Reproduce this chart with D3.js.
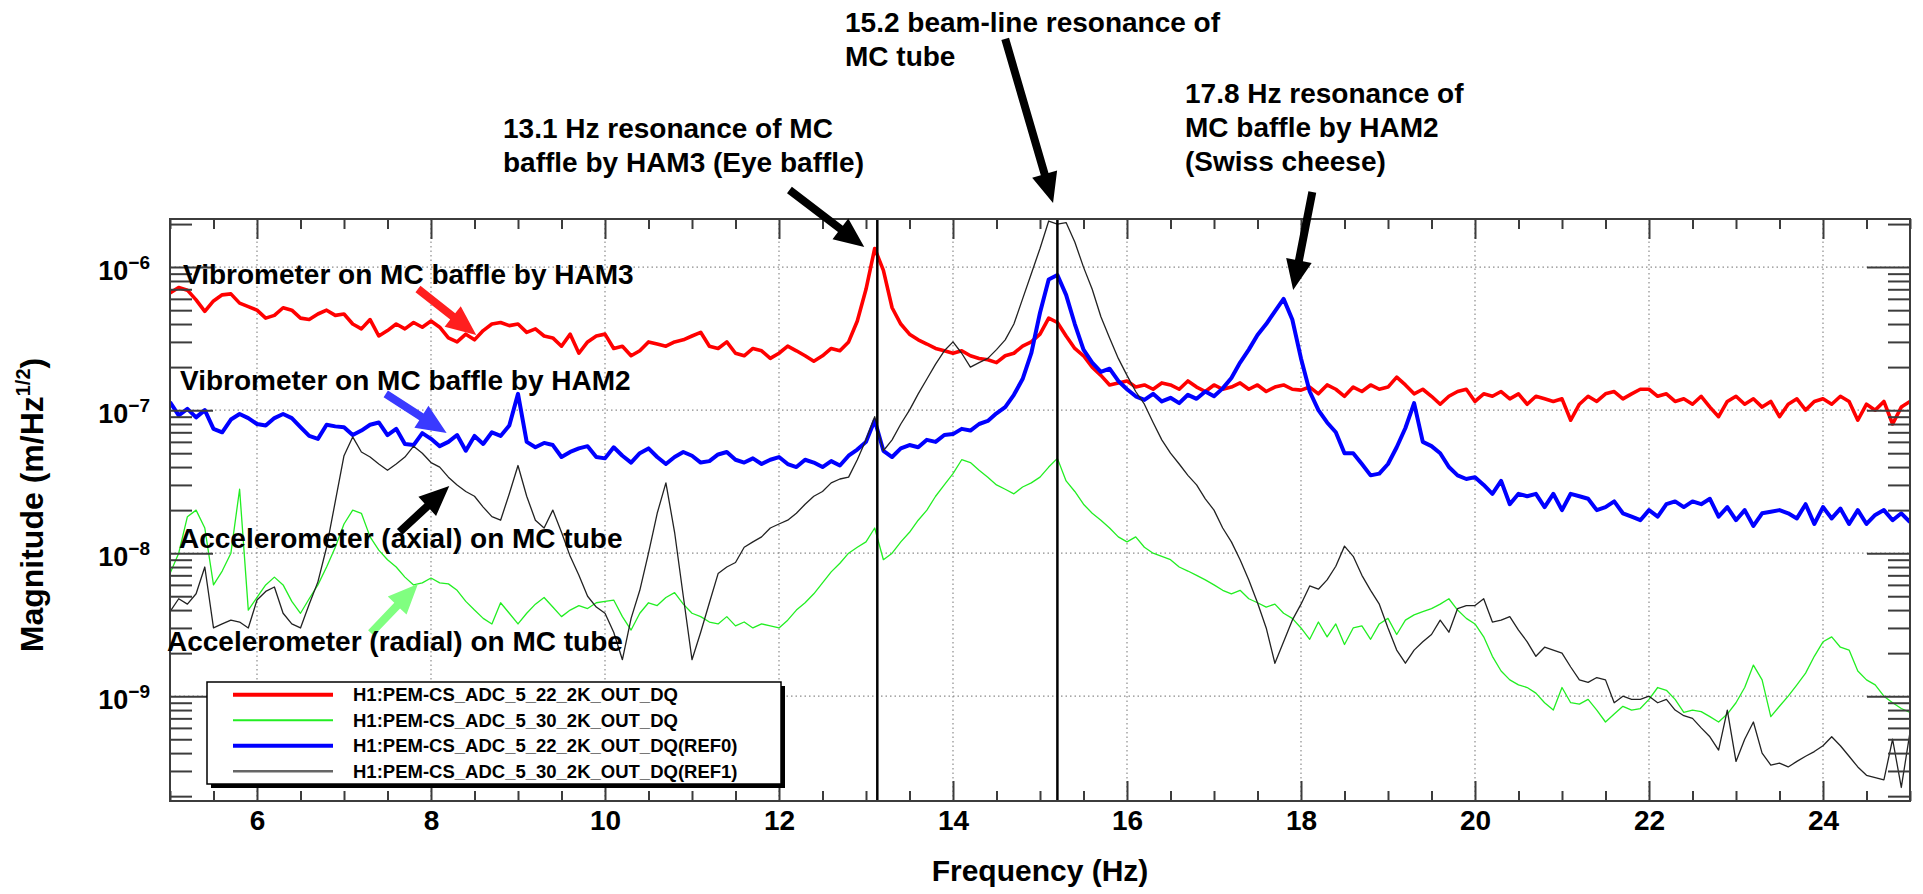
<!DOCTYPE html>
<html>
<head>
<meta charset="utf-8">
<script src="https://cdn.jsdelivr.net/npm/d3@7"></script>
<style>
  html, body { margin: 0; padding: 0; background: #fff; }
  svg { display: block; font-family: "Liberation Sans", Arial, Helvetica, sans-serif; font-weight: bold; }
</style>
</head>
<body>
<svg id="chart" width="1923" height="894"></svg>
<script>
// spectra in units of 1e-9 m/Hz^1/2, one value every 0.1 Hz from 5.0 to 25.0 Hz
const unit = 1e-9;
const freqStart = 5, freqStep = 0.1;

// red: vibrometer by HAM3 (5_22)
const redVib = [
  660, 720, 690, 590, 490, 580, 640, 650, 560, 530,
  500, 440, 460, 520, 500, 440, 430, 470, 500, 460,
  470, 400, 370, 430, 330, 360, 400, 370, 410, 380,
  420, 380, 320, 300, 340, 310, 360, 400, 410, 390,
  400, 350, 370, 330, 320, 280, 340, 250, 300, 330,
  340, 270, 280, 240, 260, 300, 290, 280, 300, 310,
  330, 350, 280, 270, 300, 250, 240, 270, 260, 230,
  250, 280, 260, 240, 220, 240, 270, 260, 300, 420,
  700, 1350, 950, 520, 400, 340, 310, 290, 270, 260,
  250, 260, 240, 230, 225, 215, 240, 250, 280, 300,
  340, 440, 410, 330, 270, 240, 200, 175, 150, 155,
  160, 145, 150, 140, 155, 150, 140, 160, 145, 135,
  150, 140, 145, 155, 140, 150, 135, 145, 150, 140,
  138, 145, 130, 150, 140, 125, 145, 135, 150, 140,
  145, 170, 150, 130, 140, 125, 110, 125, 135, 140,
  115, 130, 125, 135, 120, 130, 110, 125, 120, 115,
  120, 85, 110, 125, 115, 130, 135, 120, 130, 140,
  140, 125, 130, 115, 120, 110, 125, 105, 90, 115,
  125, 110, 120, 105, 115, 90, 110, 120, 100, 115,
  120, 110, 125, 115, 85, 110, 100, 115, 80, 105,
  115
];

// green: accelerometer radial (5_30)
const greenAcc = [
  7.2, 10, 18, 20, 15, 6, 7.5, 10, 28, 4,
  4.9, 6.0, 6.8, 6.0, 4.6, 3.8, 4.8, 6.0, 8.0, 11,
  16, 20, 19, 13, 10.5, 9.0, 8.0, 6.8, 6.0, 6.2,
  6.7, 6.2, 6.1, 5.5, 4.6, 4.0, 3.5, 3.2, 4.5, 3.8,
  3.2, 3.8, 4.4, 4.9, 4.2, 3.6, 4.0, 4.3, 4.1, 4.5,
  4.6, 4.7, 3.6, 2.9, 3.8, 4.5, 4.3, 4.9, 5.3, 4.4,
  3.8, 3.6, 3.3, 3.2, 3.6, 3.1, 3.3, 3.0, 3.2, 3.1,
  3.0, 3.4, 4.0, 4.5, 5.2, 6.2, 7.4, 8.5, 10, 11,
  12, 15, 9.0, 10, 12, 14, 17, 20, 25, 30,
  36, 45, 43, 38, 34, 30, 28, 26, 29, 31,
  34, 40, 46, 32, 27, 22, 19, 17, 15, 13,
  12, 13, 11, 10, 9.5, 9.0, 8.0, 7.5, 7.0, 6.5,
  6.0, 5.5, 5.2, 5.5, 4.8, 4.5, 4.2, 4.4, 3.8, 3.5,
  3.0, 2.5, 3.3, 2.6, 3.2, 2.3, 3.0, 3.1, 2.5, 3.2,
  3.5, 2.7, 3.4, 3.7, 3.9, 4.1, 4.4, 4.8, 4.0, 3.5,
  3.2, 2.6, 1.9, 1.5, 1.3, 1.2, 1.15, 1.05, 0.9, 0.8,
  1.15, 0.9, 0.88, 0.95, 0.8, 0.66, 0.75, 0.85, 0.8, 0.82,
  0.95, 1.15, 1.1, 0.95, 0.77, 0.8, 0.78, 0.72, 0.66, 0.75,
  0.9, 1.15, 1.65, 1.3, 0.72, 0.85, 1.0, 1.2, 1.45, 1.9,
  2.4, 2.6, 2.2, 2.1, 1.5, 1.3, 1.2, 1.0, 0.9, 0.82,
  0.77
];

// blue: vibrometer by HAM2 (5_22 REF0)
const blueVib = [
  114, 92, 102, 89, 100, 74, 70, 86, 94, 88,
  80, 78, 88, 94, 88, 76, 66, 63, 79, 77,
  76, 67, 72, 79, 82, 67, 74, 58, 57, 69,
  63, 56, 60, 67, 52, 66, 58, 70, 66, 78,
  130, 60, 55, 59, 57, 47, 51, 54, 56, 47,
  46, 55, 48, 43, 50, 54, 47, 42, 47, 51,
  48, 43, 44, 49, 51, 45, 43, 46, 42, 45,
  47, 42, 40, 45, 43, 40, 44, 41, 48, 53,
  60, 85, 52, 47, 54, 57, 55, 62, 60, 67,
  68, 74, 72, 80, 84, 95, 105, 128, 165, 250,
  480, 820, 880, 640, 400, 265, 215, 185, 195, 160,
  140, 125, 118, 130, 115, 122, 112, 128, 120, 135,
  125, 142, 168, 215, 265, 335, 400, 490, 600, 430,
  230, 135, 100, 82, 70, 50, 50, 42, 35, 36,
  42, 55, 75, 112, 60, 56, 50, 40, 35, 33,
  34, 30, 26, 32, 22, 26, 25, 26, 21, 26,
  20, 26, 25, 24, 20, 21, 23, 19, 18, 17,
  20, 18, 22, 23, 21, 23, 22, 24, 18, 21,
  17, 20, 15.5, 19, 19.5, 20, 19, 17.5, 22, 16,
  21, 17.5, 20.5, 16, 20, 16, 18.5, 20, 17, 19,
  16.5
];

// black: accelerometer axial (5_30 REF1)
const blackAcc = [
  3.9, 4.8, 4.4, 5.2, 8.0, 3.0, 3.2, 3.4, 3.3, 3.0,
  4.7, 5.4, 5.8, 3.8, 3.2, 3.0, 4.4, 6.3, 11, 23,
  48, 65, 51, 47, 42, 38, 42, 47, 56, 50,
  43, 40, 34, 30, 27, 25, 21, 18, 17, 26,
  41, 25, 17, 15, 20, 14, 9.5, 7, 5, 4.2,
  3.8, 2.8, 1.8, 3.5, 5.5, 10, 19, 31, 14, 5,
  1.8, 2.8, 4.5, 7.2, 8.0, 8.6, 11, 12, 13, 15,
  16, 17, 19, 22, 25, 27, 31, 33, 34, 45,
  62, 90, 52, 62, 80, 100, 130, 165, 210, 260,
  300, 250, 200, 215, 230, 265, 310, 400, 600, 900,
  1350, 2100, 2000, 2050, 1500, 1000, 700, 450, 320, 230,
  175, 135, 110, 82, 62, 50, 42, 35, 30, 24,
  20, 15, 12, 9, 6.5, 4.5, 3.0, 1.7, 2.4, 3.4,
  4.4, 5.9, 5.6, 6.5, 8.1, 11.2, 9.5, 7.0, 5.5, 4.4,
  3.0, 2.1, 1.7, 2.1, 2.4, 2.7, 3.4, 2.8, 4.1, 4.3,
  4.3, 4.8, 3.3, 3.4, 3.6, 2.9, 2.4, 1.9, 2.2, 2.1,
  2.0, 1.6, 1.3, 1.25, 1.35, 1.3, 0.9, 1.0, 0.95, 0.95,
  1.0, 0.9, 0.95, 0.8, 0.73, 0.7, 0.6, 0.52, 0.42, 0.8,
  0.35, 0.5, 0.66, 0.4, 0.33, 0.34, 0.32, 0.35, 0.38, 0.41,
  0.45, 0.52, 0.45, 0.38, 0.32, 0.28, 0.27, 0.26, 0.5, 0.23,
  0.56
];

const seriesNames = [
  "H1:PEM-CS_ADC_5_22_2K_OUT_DQ",
  "H1:PEM-CS_ADC_5_30_2K_OUT_DQ",
  "H1:PEM-CS_ADC_5_22_2K_OUT_DQ(REF0)",
  "H1:PEM-CS_ADC_5_30_2K_OUT_DQ(REF1)"
];

const xMajor = [6, 8, 10, 12, 14, 16, 18, 20, 22, 24];
const xTickLabels = ["6", "8", "10", "12", "14", "16", "18", "20", "22", "24"];
const yDecades = [1e-9, 1e-8, 1e-7, 1e-6];
const yTickExponents = ["\u22129", "\u22128", "\u22127", "\u22126"];

const resonanceLines = [13.13, 15.2];

// arrows in data coordinates [Hz, m/Hz^1/2]
const arrowNotes = [
  { from: [7.85, 7.03e-7], to: [8.52, 3.35e-7], color: "#ff1f1f" },
  { from: [7.48, 1.30e-7], to: [8.18, 6.92e-8], color: "#3a3aff" },
  { from: [7.64, 1.41e-8], to: [8.21, 2.95e-8], color: "#000" },
  { from: [7.31, 2.77e-9], to: [7.85, 6.09e-9], color: "#80ff80" },
  { from: [12.12, 3.46e-6], to: [12.98, 1.38e-6], color: "#000" },
  { from: [14.60, 3.94e-5], to: [15.15, 2.81e-6], color: "#000" },
  { from: [18.13, 3.35e-6], to: [17.91, 6.92e-7], color: "#000" }
];

const textNotes = [
  { x: 845, y: 32, text: "15.2 beam-line resonance of" },
  { x: 845, y: 66, text: "MC tube" },
  { x: 503, y: 138, text: "13.1 Hz resonance of MC" },
  { x: 503, y: 172, text: "baffle by HAM3 (Eye baffle)" },
  { x: 1185, y: 103, text: "17.8 Hz resonance of" },
  { x: 1185, y: 137, text: "MC baffle by HAM2" },
  { x: 1185, y: 171, text: "(Swiss cheese)" },
  { x: 183, y: 284, text: "Vibrometer on MC baffle by HAM3" },
  { x: 180, y: 390, text: "Vibrometer on MC baffle by HAM2" },
  { x: 179, y: 548, text: "Accelerometer (axial) on MC tube" },
  { x: 167, y: 651, text: "Accelerometer (radial) on MC tube" }
];

const freqs = redVib.map((_, i) => +(freqStart + i * freqStep).toFixed(1));

const plot = { left: 170, right: 1910, top: 219, bottom: 801 };
const axisColor = "#3c3c3c";

const x = d3.scaleLinear().domain([5, 25]).range([plot.left, plot.right]);
const y = d3.scaleLog().domain([1.85e-10, 2.17e-6]).range([plot.bottom, plot.top]);

const svg = d3.select("#chart");

svg.append("defs").append("clipPath").attr("id", "plotclip")
  .append("rect")
  .attr("x", plot.left).attr("y", plot.top)
  .attr("width", plot.right - plot.left).attr("height", plot.bottom - plot.top);

// dotted grid
const grid = svg.append("g")
  .attr("stroke", "#8c8c8c").attr("stroke-width", 1.2).attr("stroke-dasharray", "1.5,3");
grid.selectAll(".gx").data(xMajor).join("line")
  .attr("x1", d => x(d)).attr("x2", d => x(d))
  .attr("y1", plot.top).attr("y2", plot.bottom);
grid.selectAll(".gy").data(yDecades).join("line")
  .attr("x1", plot.left).attr("x2", plot.right)
  .attr("y1", d => y(d)).attr("y2", d => y(d));

// spectra
const series = [
  { values: redVib, color: "#ff0000", width: 3.6, legendColor: "#ff0000", legendWidth: 4 },
  { values: greenAcc, color: "#22ee22", width: 1.3, legendColor: "#22ee22", legendWidth: 2 },
  { values: blueVib, color: "#0000ff", width: 4, legendColor: "#0000ff", legendWidth: 4 },
  { values: blackAcc, color: "#222", width: 1.3, legendColor: "#666", legendWidth: 2.5 }
];

const line = d3.line()
  .x((d, i) => x(freqs[i]))
  .y(d => y(d * unit));

svg.append("g").attr("clip-path", "url(#plotclip)")
  .selectAll("path").data(series).join("path")
  .attr("fill", "none")
  .attr("stroke", d => d.color)
  .attr("stroke-width", d => d.width)
  .attr("stroke-linejoin", "round")
  .attr("d", d => line(d.values));

// resonance markers
svg.append("g").selectAll("line").data(resonanceLines).join("line")
  .attr("x1", d => x(d)).attr("x2", d => x(d))
  .attr("y1", plot.top).attr("y2", plot.bottom)
  .attr("stroke", "#000").attr("stroke-width", 2.5);

// axes (ticks point inward, ROOT style)
function styleAxis(g) {
  g.attr("font-family", null).attr("font-size", null);
  g.select(".domain").remove();
  g.selectAll(".tick line").attr("stroke", axisColor).attr("stroke-width", 2);
}

const xMinor = d3.range(5, 25.001, 0.5).filter(v => !xMajor.includes(v));

svg.append("g").attr("transform", `translate(0,${plot.bottom})`)
  .call(d3.axisBottom(x).tickValues(xMajor).tickSizeInner(-20).tickSizeOuter(0)
    .tickPadding(9).tickFormat((d, i) => xTickLabels[i]))
  .call(styleAxis)
  .call(g => g.selectAll(".tick text").attr("font-size", 28).attr("fill", "#000"));
svg.append("g").attr("transform", `translate(0,${plot.bottom})`)
  .call(d3.axisBottom(x).tickValues(xMinor).tickSizeInner(-10).tickSizeOuter(0).tickFormat(""))
  .call(styleAxis);
svg.append("g").attr("transform", `translate(0,${plot.top})`)
  .call(d3.axisTop(x).tickValues(xMajor).tickSizeInner(-20).tickSizeOuter(0).tickFormat(""))
  .call(styleAxis);
svg.append("g").attr("transform", `translate(0,${plot.top})`)
  .call(d3.axisTop(x).tickValues(xMinor).tickSizeInner(-10).tickSizeOuter(0).tickFormat(""))
  .call(styleAxis);

const yMinor = y.ticks().filter(v => !yDecades.some(d => Math.abs(d - v) / d < 1e-6));

svg.append("g").attr("transform", `translate(${plot.left},0)`)
  .call(d3.axisLeft(y).tickValues(yDecades).tickSizeInner(-43).tickSizeOuter(0)
    .tickPadding(20).tickFormat(() => ""))
  .call(styleAxis)
  .call(g => g.selectAll(".tick text").each(function (d, i) {
    const t = d3.select(this).attr("dy", null).attr("y", 12)
      .attr("font-size", 27).attr("fill", "#000");
    t.append("tspan").text("10");
    t.append("tspan").attr("dy", -11).attr("font-size", 19).text(yTickExponents[i]);
  }));
svg.append("g").attr("transform", `translate(${plot.left},0)`)
  .call(d3.axisLeft(y).tickValues(yMinor).tickSizeInner(-22).tickSizeOuter(0).tickFormat(""))
  .call(styleAxis);
svg.append("g").attr("transform", `translate(${plot.right},0)`)
  .call(d3.axisRight(y).tickValues(yDecades).tickSizeInner(-43).tickSizeOuter(0).tickFormat(""))
  .call(styleAxis);
svg.append("g").attr("transform", `translate(${plot.right},0)`)
  .call(d3.axisRight(y).tickValues(yMinor).tickSizeInner(-22).tickSizeOuter(0).tickFormat(""))
  .call(styleAxis);

// frame
svg.append("rect")
  .attr("x", plot.left).attr("y", plot.top)
  .attr("width", plot.right - plot.left).attr("height", plot.bottom - plot.top)
  .attr("fill", "none").attr("stroke", axisColor).attr("stroke-width", 2);

// axis titles
svg.append("text")
  .attr("x", (plot.left + plot.right) / 2).attr("y", 881)
  .attr("text-anchor", "middle").attr("font-size", 30)
  .text("Frequency (Hz)");

const yTitle = svg.append("text")
  .attr("transform", "translate(43,505) rotate(-90)")
  .attr("text-anchor", "middle").attr("font-size", 32);
yTitle.append("tspan").text("Magnitude (m/Hz");
yTitle.append("tspan").attr("dy", -13).attr("font-size", 20).text("1/2");
yTitle.append("tspan").attr("dy", 13).text(")");

// legend
const legend = { x: 207, y: 682, w: 574, h: 102 };
svg.append("rect")
  .attr("x", legend.x + 4).attr("y", legend.y + 4)
  .attr("width", legend.w).attr("height", legend.h).attr("fill", "#000");
svg.append("rect")
  .attr("x", legend.x).attr("y", legend.y)
  .attr("width", legend.w).attr("height", legend.h)
  .attr("fill", "#fff").attr("stroke", "#000").attr("stroke-width", 1.5);
const rowH = legend.h / seriesNames.length;
const items = svg.append("g").selectAll("g").data(seriesNames).join("g")
  .attr("transform", (d, i) => `translate(0,${legend.y + rowH * (i + 0.5)})`);
items.append("line")
  .attr("x1", 233).attr("x2", 333)
  .attr("stroke", (d, i) => series[i].legendColor)
  .attr("stroke-width", (d, i) => series[i].legendWidth);
items.append("text")
  .attr("x", 353).attr("y", 6.5)
  .attr("font-size", 18.5)
  .text(d => d);

// arrows
function arrowPoints(a) {
  const x1 = x(a.from[0]), y1 = y(a.from[1]);
  const x2 = x(a.to[0]), y2 = y(a.to[1]);
  const len = Math.hypot(x2 - x1, y2 - y1);
  const ux = (x2 - x1) / len, uy = (y2 - y1) / len;
  const nx = -uy, ny = ux;
  const sw = 4, hw = 13, hl = 30;
  const bx = x2 - ux * hl, by = y2 - uy * hl;
  return [
    [x1 + nx * sw, y1 + ny * sw],
    [bx + nx * sw, by + ny * sw],
    [bx + nx * hw, by + ny * hw],
    [x2, y2],
    [bx - nx * hw, by - ny * hw],
    [bx - nx * sw, by - ny * sw],
    [x1 - nx * sw, y1 - ny * sw]
  ].map(p => p.join(",")).join(" ");
}
svg.append("g").selectAll("polygon").data(arrowNotes).join("polygon")
  .attr("points", arrowPoints)
  .attr("fill", d => d.color);

// annotation texts
svg.append("g").selectAll("text").data(textNotes).join("text")
  .attr("x", d => d.x).attr("y", d => d.y)
  .attr("font-size", 28)
  .text(d => d.text);
</script>
</body>
</html>
